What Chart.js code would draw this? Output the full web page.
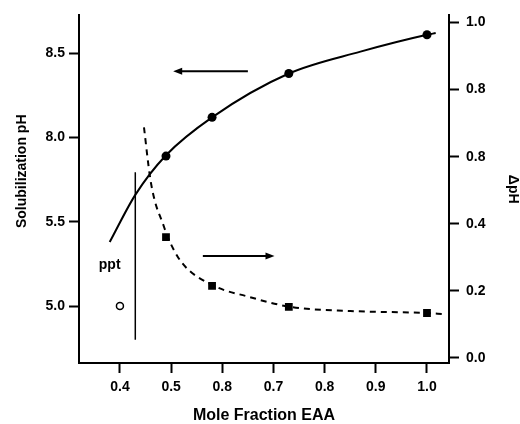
<!DOCTYPE html>
<html>
<head>
<meta charset="utf-8">
<script src="https://cdn.jsdelivr.net/npm/chart.js@4/dist/chart.umd.min.js"></script>
<style>
  html, body { margin: 0; padding: 0; background: #fff; }
  #wrap { width: 520px; height: 424px; }
</style>
</head>
<body>
<div id="wrap"><canvas id="myChart" width="520" height="424"></canvas></div>
<script>
// measured points
var moleFrac = [0.49, 0.58, 0.73, 1.0];
var solPH = [5.89, 6.12, 6.38, 6.61];      // left axis
var deltaPH = [0.36, 0.215, 0.152, 0.134]; // right axis
var pptX = [0.40];
var pptY = [5.0];

// hand drawn curves
var fitPHX = [0.38, 0.43, 0.49, 0.58, 0.73, 0.87, 1.0, 1.017];
var fitPHY = [5.38, 5.66, 5.895, 6.12, 6.38, 6.51, 6.61, 6.62];
var fitDX = [0.447, 0.459, 0.468, 0.484, 0.494, 0.521, 0.584, 0.65, 0.734, 0.85, 1.0, 1.031];
var fitDY = [0.687, 0.537, 0.469, 0.40, 0.358, 0.284, 0.215, 0.183, 0.152, 0.14, 0.134, 0.131];

// ppt boundary
var pptLineX = [0.43, 0.43];
var pptLineY = [5.794, 4.80];

// ticks, labels as printed
var xTicks = [0.4, 0.5, 0.6, 0.7, 0.8, 0.9, 1.0];
var xTickLabels = ['0.4', '0.5', '0.8', '0.7', '0.8', '0.9', '1.0'];
var leftTicks = [5.0, 5.5, 6.0, 6.5];
var leftTickLabels = ['5.0', '5.5', '8.0', '8.5'];
var rightTicks = [0, 0.2, 0.4, 0.6, 0.8, 1.0];
var rightTickLabels = ['0.0', '0.2', '0.4', '0.8', '0.8', '1.0'];

function pts(xs, ys) {
    return xs.map(function (x, i) { return { x: x, y: ys[i] }; });
}

var FONT = '"Liberation Sans", Arial, sans-serif';

function arrow(c, x1, y1, x2, y2) {
    var a = Math.atan2(y2 - y1, x2 - x1);
    c.beginPath();
    c.moveTo(x1, y1);
    c.lineTo(x2 - 6 * Math.cos(a), y2 - 6 * Math.sin(a));
    c.stroke();
    c.beginPath();
    c.moveTo(x2, y2);
    c.lineTo(x2 - 9 * Math.cos(a) + 3.5 * Math.sin(a), y2 - 9 * Math.sin(a) - 3.5 * Math.cos(a));
    c.lineTo(x2 - 9 * Math.cos(a) - 3.5 * Math.sin(a), y2 - 9 * Math.sin(a) + 3.5 * Math.cos(a));
    c.closePath();
    c.fill();
}

var extras = {
    id: 'extras',
    afterDatasetsDraw: function (chart) {
        var c = chart.ctx, sx = chart.scales.x, sy = chart.scales.y, sy1 = chart.scales.y1;
        c.save();
        c.strokeStyle = '#000';
        c.fillStyle = '#000';
        c.lineWidth = 2;
        // arrows point to the axis each curve belongs to
        arrow(c, sx.getPixelForValue(0.65), sy.getPixelForValue(6.393), sx.getPixelForValue(0.504), sy.getPixelForValue(6.393));
        arrow(c, sx.getPixelForValue(0.562), sy1.getPixelForValue(0.304), sx.getPixelForValue(0.702), sy1.getPixelForValue(0.304));

        c.font = 'bold 14px ' + FONT;
        c.textAlign = 'center';
        c.textBaseline = 'middle';
        c.fillText('ppt', sx.getPixelForValue(0.38), sy.getPixelForValue(5.243));

        // left axis title
        c.translate(22, sy.getPixelForValue(5.8));
        c.rotate(-Math.PI / 2);
        c.fillText('Solubilization pH', 0, 0);
        c.restore();
    }
};

var ctx = document.getElementById('myChart');
var myChart = new Chart(ctx, {
    type: 'scatter',
    data: {
        datasets: [
            {
                label: 'pH',
                data: pts(moleFrac, solPH),
                yAxisID: 'y',
                pointStyle: 'circle',
                pointRadius: 4.5,
                backgroundColor: '#000',
                borderWidth: 0,
                showLine: false
            },
            {
                label: 'dpH',
                data: pts(moleFrac, deltaPH),
                yAxisID: 'y1',
                pointStyle: 'rect',
                pointRadius: 5.5,
                backgroundColor: '#000',
                borderWidth: 0,
                showLine: false
            },
            {
                label: 'ppt',
                data: pts(pptX, pptY),
                yAxisID: 'y',
                pointStyle: 'circle',
                pointRadius: 3.5,
                backgroundColor: '#fff',
                borderColor: '#000',
                borderWidth: 1.5,
                showLine: false
            },
            {
                label: 'fit pH',
                data: pts(fitPHX, fitPHY),
                yAxisID: 'y',
                showLine: true,
                cubicInterpolationMode: 'monotone',
                borderColor: '#000',
                borderWidth: 2,
                pointRadius: 0
            },
            {
                label: 'fit dpH',
                data: pts(fitDX, fitDY),
                yAxisID: 'y1',
                showLine: true,
                cubicInterpolationMode: 'monotone',
                borderColor: '#000',
                borderWidth: 2,
                borderDash: [6, 5],
                pointRadius: 0
            },
            {
                label: 'boundary',
                data: pts(pptLineX, pptLineY),
                yAxisID: 'y',
                showLine: true,
                tension: 0,
                borderColor: '#000',
                borderWidth: 1.5,
                pointRadius: 0
            }
        ]
    },
    options: {
        responsive: false,
        animation: false,
        devicePixelRatio: 1,
        layout: { padding: { top: 15, left: 0, right: 0, bottom: 0 } },
        plugins: {
            legend: { display: false },
            tooltip: { enabled: false }
        },
        scales: {
            x: {
                type: 'linear',
                min: 0.32,
                max: 1.043,
                afterBuildTicks: function (s) { s.ticks = xTicks.map(function (v) { return { value: v }; }); },
                afterFit: function (s) { s.height = 61; },
                grid: { drawOnChartArea: false, tickLength: 10, tickColor: '#000', tickWidth: 2 },
                border: { display: true, color: '#000', width: 2 },
                ticks: {
                    color: '#000', padding: 6, maxRotation: 0, autoSkip: false,
                    font: { family: FONT, size: 14, weight: 'bold' },
                    callback: function (v, i) { return xTickLabels[i]; }
                },
                title: {
                    display: true, text: 'Mole Fraction EAA', color: '#000',
                    font: { family: FONT, size: 16, weight: 'bold', lineHeight: 1 },
                    padding: { top: 0, bottom: 0 }
                }
            },
            y: {
                type: 'linear',
                position: 'left',
                min: 4.662,
                max: 6.725,
                afterBuildTicks: function (s) { s.ticks = leftTicks.map(function (v) { return { value: v }; }); },
                afterFit: function (s) { s.width = 79; },
                grid: { drawOnChartArea: false, tickLength: 10, tickColor: '#000', tickWidth: 2 },
                border: { display: true, color: '#000', width: 2 },
                ticks: {
                    color: '#000', padding: 4,
                    font: { family: FONT, size: 14, weight: 'bold' },
                    callback: function (v, i) { return leftTickLabels[i]; }
                },
                title: { display: false }
            },
            y1: {
                type: 'linear',
                position: 'right',
                min: -0.015,
                max: 1.021,
                afterBuildTicks: function (s) { s.ticks = rightTicks.map(function (v) { return { value: v }; }); },
                afterFit: function (s) { s.width = 71; },
                grid: { drawOnChartArea: false, tickLength: 10, tickColor: '#000', tickWidth: 2 },
                border: { display: true, color: '#000', width: 2 },
                ticks: {
                    color: '#000', padding: 7,
                    font: { family: FONT, size: 14, weight: 'bold' },
                    callback: function (v, i) { return rightTickLabels[i]; }
                },
                title: {
                    display: true, text: 'ΔpH', color: '#000',
                    font: { family: FONT, size: 14, weight: 'bold', lineHeight: 1 },
                    padding: { top: 0, bottom: 0 }
                }
            }
        }
    },
    plugins: [extras]
});
</script>
</body>
</html>
